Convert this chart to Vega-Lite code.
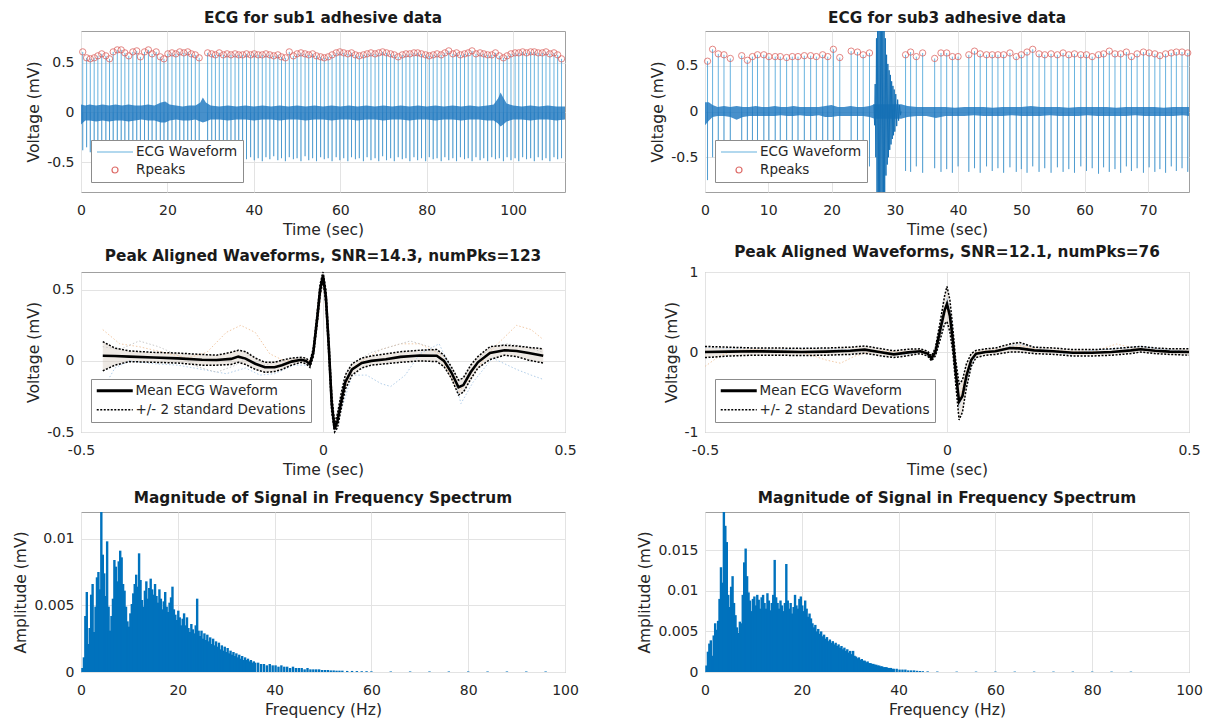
{
"$schema":"https://vega.github.io/schema/vega-lite/v6.json",
"padding":{"left":13,"top":10,"right":5,"bottom":5},
"background":"white",
"columns":2,
"spacing":{"row":80,"column":140},
"bounds":"flush",
"resolve":{"scale":{"color":"independent"},"legend":{"color":"independent"}},
"config":{
 "font":"DejaVu Sans",
 "view":{"stroke":"#a0a0a0","strokeWidth":1},
 "axis":{"labelFont":"DejaVu Sans","labelFontSize":14,"labelColor":"#262626","titleFont":"DejaVu Sans","titleFontSize":15.5,"titleFontWeight":"normal","titleColor":"#262626","grid":true,"gridColor":"#e3e3e3","domain":false,"ticks":false,"titlePadding":5,"labelExpr":"'' + datum.value","labelFlush":false,"labelOverlap":false},
 "axisX":{"labelPadding":11},
 "axisY":{"labelPadding":7},
 "title":{"font":"DejaVu Sans","fontSize":15.3,"fontWeight":"bold","color":"#1a1a1a","offset":5,"baseline":"alphabetic"},
 "legend":{"orient":"bottom-left","offset":10,"labelFont":"DejaVu Sans","labelFontSize":13.5,"labelColor":"#262626","labelLimit":400,"fillColor":"white","strokeColor":"#8c8c8c","padding":5,"rowPadding":4,"labelOffset":26,"cornerRadius":0,"symbolSize":144}
},
"datasets":{
"b1":[
{"t":0.4,"r":0.61,"s":-0.38},{"t":1.3,"r":0.55,"s":-0.35},{"t":2.15,"r":0.54,"s":-0.4},{"t":3.05,"r":0.55,"s":-0.33},{"t":3.9,"r":0.57,"s":-0.42},{"t":4.8,"r":0.59,"s":-0.36},{"t":5.75,"r":0.57,"s":-0.3},{"t":6.6,"r":0.54,"s":-0.41},{"t":7.45,"r":0.61,"s":-0.37},{"t":8.4,"r":0.63,"s":-0.44},{"t":9.3,"r":0.63,"s":-0.34},{"t":10.15,"r":0.6,"s":-0.4},{"t":11.05,"r":0.57,"s":-0.36},{"t":12.0,"r":0.61,"s":-0.43},{"t":12.9,"r":0.62,"s":-0.32},{"t":13.75,"r":0.56,"s":-0.41},{"t":14.7,"r":0.61,"s":-0.38},{"t":15.6,"r":0.63,"s":-0.45},{"t":16.45,"r":0.59,"s":-0.35},{"t":17.4,"r":0.61,"s":-0.42},{"t":18.35,"r":0.56,"s":-0.39},{"t":19.2,"r":0.54,"s":-0.3},{"t":20.1,"r":0.59,"s":-0.44},{"t":21.05,"r":0.6,"s":-0.37},{"t":21.95,"r":0.59,"s":-0.42},{"t":22.85,"r":0.61,"s":-0.36},{"t":23.8,"r":0.6,"s":-0.44},{"t":24.7,"r":0.61,"s":-0.38},{"t":25.55,"r":0.59,"s":-0.43},{"t":26.45,"r":0.58,"s":-0.4},{"t":27.35,"r":0.55,"s":-0.36},
{"t":29.3,"r":0.6,"s":-0.46},{"t":30.25,"r":0.59,"s":-0.44},{"t":31.1,"r":0.58,"s":-0.48},{"t":32.0,"r":0.6,"s":-0.45},{"t":32.95,"r":0.58,"s":-0.47},{"t":33.8,"r":0.59,"s":-0.43},{"t":34.7,"r":0.58,"s":-0.48},{"t":35.65,"r":0.59,"s":-0.46},{"t":36.5,"r":0.58,"s":-0.49},{"t":37.4,"r":0.58,"s":-0.44},{"t":38.3,"r":0.59,"s":-0.47},{"t":39.25,"r":0.58,"s":-0.45},{"t":40.1,"r":0.59,"s":-0.48},{"t":41.0,"r":0.58,"s":-0.46},{"t":41.95,"r":0.58,"s":-0.49},{"t":42.8,"r":0.59,"s":-0.45},{"t":43.7,"r":0.58,"s":-0.47},{"t":44.6,"r":0.57,"s":-0.44},{"t":45.55,"r":0.58,"s":-0.48},{"t":46.4,"r":0.56,"s":-0.46},{"t":47.3,"r":0.55,"s":-0.49},{"t":48.2,"r":0.61,"s":-0.45},{"t":49.15,"r":0.57,"s":-0.47},{"t":50.0,"r":0.59,"s":-0.46},{"t":50.9,"r":0.6,"s":-0.49},{"t":51.85,"r":0.59,"s":-0.44},{"t":52.7,"r":0.58,"s":-0.48},{"t":53.6,"r":0.59,"s":-0.46},{"t":54.5,"r":0.57,"s":-0.49},{"t":55.45,"r":0.56,"s":-0.45},{"t":56.3,"r":0.55,"s":-0.47},{"t":57.2,"r":0.56,"s":-0.46},{"t":58.1,"r":0.58,"s":-0.49},{"t":59.05,"r":0.6,"s":-0.45},{"t":59.9,"r":0.61,"s":-0.48},{"t":60.8,"r":0.6,"s":-0.46},{"t":61.75,"r":0.59,"s":-0.49},{"t":62.6,"r":0.6,"s":-0.45},{"t":63.5,"r":0.58,"s":-0.47},{"t":64.4,"r":0.57,"s":-0.46},{"t":65.35,"r":0.58,"s":-0.49},{"t":66.2,"r":0.59,"s":-0.45},{"t":67.1,"r":0.6,"s":-0.48},{"t":68.05,"r":0.59,"s":-0.46},{"t":68.9,"r":0.6,"s":-0.49},{"t":69.8,"r":0.61,"s":-0.44},{"t":70.7,"r":0.6,"s":-0.48},{"t":71.65,"r":0.59,"s":-0.46},{"t":72.5,"r":0.58,"s":-0.49},{"t":73.4,"r":0.56,"s":-0.45},{"t":74.35,"r":0.58,"s":-0.47},{"t":75.2,"r":0.59,"s":-0.46},{"t":76.1,"r":0.59,"s":-0.49},{"t":77.05,"r":0.6,"s":-0.45},{"t":77.9,"r":0.6,"s":-0.48},{"t":78.8,"r":0.59,"s":-0.46},{"t":79.75,"r":0.58,"s":-0.49},{"t":80.6,"r":0.57,"s":-0.45},{"t":81.5,"r":0.58,"s":-0.47},{"t":82.4,"r":0.59,"s":-0.46},{"t":83.35,"r":0.58,"s":-0.49},{"t":84.2,"r":0.6,"s":-0.45},{"t":85.1,"r":0.62,"s":-0.48},{"t":86.05,"r":0.59,"s":-0.46},{"t":86.9,"r":0.6,"s":-0.49},{"t":87.8,"r":0.58,"s":-0.45},{"t":88.75,"r":0.59,"s":-0.47},{"t":89.6,"r":0.6,"s":-0.46},{"t":90.5,"r":0.62,"s":-0.49},{"t":91.4,"r":0.59,"s":-0.45},{"t":92.35,"r":0.6,"s":-0.48},{"t":93.2,"r":0.59,"s":-0.46},{"t":94.1,"r":0.58,"s":-0.49},{"t":95.05,"r":0.58,"s":-0.45},{"t":95.9,"r":0.6,"s":-0.47},{"t":96.8,"r":0.57,"s":-0.46},{"t":97.75,"r":0.55,"s":-0.49},{"t":98.6,"r":0.57,"s":-0.45},{"t":99.5,"r":0.59,"s":-0.48},{"t":100.45,"r":0.6,"s":-0.46},{"t":101.3,"r":0.6,"s":-0.49},{"t":102.2,"r":0.61,"s":-0.45},{"t":103.1,"r":0.6,"s":-0.47},{"t":104.05,"r":0.61,"s":-0.46},{"t":104.9,"r":0.61,"s":-0.49},{"t":105.8,"r":0.6,"s":-0.45},{"t":106.75,"r":0.6,"s":-0.48},{"t":107.6,"r":0.61,"s":-0.46},{"t":108.5,"r":0.59,"s":-0.49},{"t":109.45,"r":0.6,"s":-0.45},{"t":110.3,"r":0.58,"s":-0.47},{"t":111.2,"r":0.54,"s":-0.46}
],
"n1":[
{"t":0,"lo":-0.12,"hi":0.08},{"t":1,"lo":-0.08,"hi":0.07},{"t":2,"lo":-0.08,"hi":0.08},{"t":3.5,"lo":-0.09,"hi":0.07},{"t":5,"lo":-0.08,"hi":0.08},{"t":6.5,"lo":-0.09,"hi":0.07},{"t":8,"lo":-0.08,"hi":0.08},{"t":9.5,"lo":-0.08,"hi":0.07},{"t":11,"lo":-0.09,"hi":0.08},{"t":12.5,"lo":-0.08,"hi":0.07},{"t":14,"lo":-0.07,"hi":0.07},{"t":15.5,"lo":-0.08,"hi":0.08},{"t":17,"lo":-0.08,"hi":0.07},{"t":18.5,"lo":-0.1,"hi":0.1},{"t":19.5,"lo":-0.1,"hi":0.11},{"t":20.5,"lo":-0.08,"hi":0.08},{"t":22,"lo":-0.07,"hi":0.07},{"t":23.5,"lo":-0.08,"hi":0.06},{"t":25,"lo":-0.08,"hi":0.07},{"t":26.5,"lo":-0.07,"hi":0.07},{"t":27.6,"lo":-0.09,"hi":0.1},{"t":28.2,"lo":-0.1,"hi":0.15},{"t":28.9,"lo":-0.09,"hi":0.1},{"t":30,"lo":-0.07,"hi":0.07},{"t":32,"lo":-0.07,"hi":0.06},{"t":34,"lo":-0.08,"hi":0.07},{"t":36,"lo":-0.07,"hi":0.06},{"t":38,"lo":-0.07,"hi":0.07},{"t":40,"lo":-0.08,"hi":0.06},{"t":42,"lo":-0.07,"hi":0.07},{"t":44,"lo":-0.07,"hi":0.06},{"t":46,"lo":-0.08,"hi":0.07},{"t":48,"lo":-0.07,"hi":0.06},{"t":50,"lo":-0.07,"hi":0.07},{"t":52,"lo":-0.08,"hi":0.06},{"t":54,"lo":-0.07,"hi":0.07},{"t":56,"lo":-0.07,"hi":0.06},{"t":58,"lo":-0.08,"hi":0.07},{"t":60,"lo":-0.07,"hi":0.06},{"t":62,"lo":-0.07,"hi":0.07},{"t":64,"lo":-0.08,"hi":0.06},{"t":66,"lo":-0.07,"hi":0.07},{"t":68,"lo":-0.07,"hi":0.06},{"t":70,"lo":-0.08,"hi":0.07},{"t":72,"lo":-0.07,"hi":0.06},{"t":74,"lo":-0.07,"hi":0.07},{"t":76,"lo":-0.08,"hi":0.06},{"t":78,"lo":-0.07,"hi":0.07},{"t":80,"lo":-0.07,"hi":0.06},{"t":82,"lo":-0.08,"hi":0.07},{"t":84,"lo":-0.07,"hi":0.06},{"t":86,"lo":-0.07,"hi":0.07},{"t":88,"lo":-0.08,"hi":0.06},{"t":90,"lo":-0.07,"hi":0.07},{"t":92,"lo":-0.07,"hi":0.06},{"t":94,"lo":-0.08,"hi":0.07},{"t":95.5,"lo":-0.08,"hi":0.08},{"t":96.5,"lo":-0.11,"hi":0.14},{"t":97.1,"lo":-0.14,"hi":0.2},{"t":97.7,"lo":-0.12,"hi":0.15},{"t":98.5,"lo":-0.09,"hi":0.09},{"t":100,"lo":-0.07,"hi":0.07},{"t":102,"lo":-0.07,"hi":0.06},{"t":104,"lo":-0.08,"hi":0.07},{"t":106,"lo":-0.07,"hi":0.06},{"t":108,"lo":-0.07,"hi":0.07},{"t":110,"lo":-0.08,"hi":0.06},{"t":112,"lo":-0.07,"hi":0.06}
],
"b2":[
{"t":0.4,"r":0.55,"s":-0.75},{"t":1.2,"r":0.68,"s":-0.5},{"t":2.1,"r":0.63,"s":-0.55},{"t":3.0,"r":0.62,"s":-0.45},{"t":4.0,"r":0.58,"s":-0.58},{"t":5.8,"r":0.61,"s":-0.6},{"t":6.7,"r":0.56,"s":-0.52},{"t":7.5,"r":0.6,"s":-0.62},{"t":8.3,"r":0.62,"s":-0.48},{"t":9.3,"r":0.62,"s":-0.58},{"t":10.1,"r":0.6,"s":-0.5},{"t":11.1,"r":0.6,"s":-0.6},{"t":11.9,"r":0.6,"s":-0.47},{"t":12.9,"r":0.59,"s":-0.57},{"t":13.8,"r":0.6,"s":-0.52},{"t":14.7,"r":0.6,"s":-0.62},{"t":15.7,"r":0.61,"s":-0.5},{"t":16.7,"r":0.61,"s":-0.58},{"t":17.6,"r":0.6,"s":-0.49},{"t":18.6,"r":0.62,"s":-0.6},{"t":19.4,"r":0.6,"s":-0.55},{"t":20.3,"r":0.68,"s":-0.62},{"t":21.3,"r":0.59,"s":-0.5},{"t":23.1,"r":0.66,"s":-0.58},{"t":24.1,"r":0.65,"s":-0.6},{"t":25.0,"r":0.62,"s":-0.55},{"t":26.0,"r":0.64,"s":-0.6},
{"t":31.7,"r":0.62,"s":-0.65},{"t":32.5,"r":0.65,"s":-0.66},{"t":33.4,"r":0.6,"s":-0.6},{"t":34.4,"r":0.64,"s":-0.67},{"t":36.3,"r":0.58,"s":-0.62},{"t":37.3,"r":0.64,"s":-0.66},{"t":38.2,"r":0.64,"s":-0.63},{"t":39.1,"r":0.6,"s":-0.67},{"t":40.0,"r":0.6,"s":-0.6},{"t":41.7,"r":0.62,"s":-0.66},{"t":42.6,"r":0.66,"s":-0.62},{"t":43.5,"r":0.63,"s":-0.67},{"t":44.5,"r":0.62,"s":-0.6},{"t":45.4,"r":0.62,"s":-0.65},{"t":46.3,"r":0.62,"s":-0.62},{"t":47.2,"r":0.62,"s":-0.67},{"t":48.2,"r":0.64,"s":-0.61},{"t":49.2,"r":0.6,"s":-0.66},{"t":50.0,"r":0.62,"s":-0.63},{"t":50.9,"r":0.65,"s":-0.67},{"t":51.8,"r":0.68,"s":-0.6},{"t":52.8,"r":0.63,"s":-0.66},{"t":53.7,"r":0.62,"s":-0.62},{"t":54.7,"r":0.63,"s":-0.67},{"t":55.7,"r":0.62,"s":-0.61},{"t":56.6,"r":0.64,"s":-0.66},{"t":57.5,"r":0.62,"s":-0.63},{"t":58.4,"r":0.63,"s":-0.67},{"t":59.4,"r":0.62,"s":-0.6},{"t":60.3,"r":0.62,"s":-0.65},{"t":61.2,"r":0.6,"s":-0.62},{"t":62.2,"r":0.62,"s":-0.68},{"t":63.0,"r":0.63,"s":-0.61},{"t":63.9,"r":0.66,"s":-0.66},{"t":64.8,"r":0.63,"s":-0.63},{"t":65.7,"r":0.63,"s":-0.67},{"t":66.6,"r":0.65,"s":-0.6},{"t":67.4,"r":0.6,"s":-0.65},{"t":68.3,"r":0.63,"s":-0.62},{"t":69.3,"r":0.65,"s":-0.67},{"t":70.2,"r":0.64,"s":-0.61},{"t":71.1,"r":0.63,"s":-0.66},{"t":71.9,"r":0.61,"s":-0.63},{"t":72.8,"r":0.63,"s":-0.67},{"t":73.7,"r":0.64,"s":-0.6},{"t":74.5,"r":0.65,"s":-0.65},{"t":75.4,"r":0.65,"s":-0.62},{"t":76.3,"r":0.64,"s":-0.66}
],
"n2":[
{"t":0,"lo":-0.15,"hi":0.1},{"t":0.6,"lo":-0.1,"hi":0.1},{"t":1.2,"lo":-0.06,"hi":0.07},{"t":2,"lo":-0.05,"hi":0.05},{"t":3,"lo":-0.05,"hi":0.06},{"t":4,"lo":-0.06,"hi":0.05},{"t":5,"lo":-0.09,"hi":0.06},{"t":6,"lo":-0.06,"hi":0.05},{"t":7,"lo":-0.05,"hi":0.05},{"t":8,"lo":-0.05,"hi":0.06},{"t":9,"lo":-0.05,"hi":0.05},{"t":10,"lo":-0.05,"hi":0.05},{"t":11,"lo":-0.05,"hi":0.06},{"t":12,"lo":-0.04,"hi":0.05},{"t":13,"lo":-0.05,"hi":0.05},{"t":14,"lo":-0.05,"hi":0.06},{"t":15,"lo":-0.04,"hi":0.05},{"t":16,"lo":-0.05,"hi":0.05},{"t":17,"lo":-0.05,"hi":0.05},{"t":18,"lo":-0.04,"hi":0.05},{"t":19,"lo":-0.06,"hi":0.06},{"t":20,"lo":-0.06,"hi":0.07},{"t":21,"lo":-0.05,"hi":0.05},{"t":22,"lo":-0.05,"hi":0.05},{"t":23,"lo":-0.05,"hi":0.06},{"t":24,"lo":-0.05,"hi":0.05},{"t":25,"lo":-0.05,"hi":0.05},{"t":26,"lo":-0.06,"hi":0.06},{"t":26.8,"lo":-0.08,"hi":0.08},{"t":31,"lo":-0.08,"hi":0.08},{"t":32,"lo":-0.06,"hi":0.06},{"t":33.5,"lo":-0.05,"hi":0.05},{"t":35,"lo":-0.05,"hi":0.05},{"t":36.5,"lo":-0.07,"hi":0.05},{"t":38,"lo":-0.05,"hi":0.05},{"t":39.5,"lo":-0.05,"hi":0.04},{"t":41,"lo":-0.05,"hi":0.05},{"t":42.5,"lo":-0.04,"hi":0.05},{"t":44,"lo":-0.05,"hi":0.05},{"t":45.5,"lo":-0.05,"hi":0.04},{"t":47,"lo":-0.05,"hi":0.05},{"t":48.5,"lo":-0.04,"hi":0.05},{"t":50,"lo":-0.05,"hi":0.05},{"t":51.5,"lo":-0.05,"hi":0.06},{"t":53,"lo":-0.05,"hi":0.05},{"t":54.5,"lo":-0.04,"hi":0.05},{"t":56,"lo":-0.05,"hi":0.05},{"t":57.5,"lo":-0.05,"hi":0.04},{"t":59,"lo":-0.05,"hi":0.05},{"t":60.5,"lo":-0.04,"hi":0.05},{"t":62,"lo":-0.05,"hi":0.05},{"t":63.5,"lo":-0.05,"hi":0.05},{"t":65,"lo":-0.05,"hi":0.04},{"t":66.5,"lo":-0.05,"hi":0.05},{"t":68,"lo":-0.04,"hi":0.05},{"t":69.5,"lo":-0.05,"hi":0.05},{"t":71,"lo":-0.05,"hi":0.05},{"t":72.5,"lo":-0.05,"hi":0.04},{"t":74,"lo":-0.05,"hi":0.05},{"t":75.5,"lo":-0.04,"hi":0.05},{"t":76.5,"lo":-0.05,"hi":0.05}
],
"burst2":[
{"t":26.7,"v":0.08},{"t":26.8,"v":-0.15},{"t":26.9,"v":0.3},{"t":27.0,"v":-0.5},{"t":27.1,"v":0.8},{"t":27.2,"v":-1.2},{"t":27.3,"v":1.2},{"t":27.4,"v":-1.2},{"t":27.5,"v":1.2},{"t":27.6,"v":-1.2},{"t":27.7,"v":1.2},{"t":27.8,"v":-1.2},{"t":27.9,"v":1.2},{"t":28.0,"v":-1.2},{"t":28.1,"v":1.2},{"t":28.2,"v":-1.1},{"t":28.3,"v":1.0},{"t":28.4,"v":-0.9},{"t":28.5,"v":0.8},{"t":28.6,"v":-0.7},{"t":28.7,"v":0.62},{"t":28.8,"v":-0.58},{"t":28.9,"v":0.52},{"t":29.0,"v":-0.5},{"t":29.1,"v":0.45},{"t":29.2,"v":-0.42},{"t":29.3,"v":0.4},{"t":29.4,"v":-0.36},{"t":29.5,"v":0.33},{"t":29.6,"v":-0.3},{"t":29.7,"v":0.28},{"t":29.8,"v":-0.26},{"t":29.9,"v":0.24},{"t":30.0,"v":-0.22},{"t":30.15,"v":0.19},{"t":30.3,"v":-0.16},{"t":30.45,"v":0.13},{"t":30.6,"v":-0.1},{"t":30.75,"v":0.07},{"t":30.9,"v":-0.04},{"t":31.0,"v":0.0}
],
"m3":[
{"t":-0.455,"m":0.036,"u":0.135,"l":-0.07},{"t":-0.43,"m":0.034,"u":0.09,"l":-0.03},{"t":-0.4,"m":0.03,"u":0.07,"l":-0.005},{"t":-0.35,"m":0.024,"u":0.06,"l":-0.01},{"t":-0.3,"m":0.018,"u":0.055,"l":-0.015},{"t":-0.25,"m":0.008,"u":0.045,"l":-0.03},{"t":-0.22,"m":0.006,"u":0.04,"l":-0.03},{"t":-0.19,"m":0.014,"u":0.06,"l":-0.025},{"t":-0.175,"m":0.03,"u":0.075,"l":-0.01},{"t":-0.16,"m":0.016,"u":0.065,"l":-0.025},{"t":-0.14,"m":-0.02,"u":0.02,"l":-0.06},{"t":-0.12,"m":-0.045,"u":-0.01,"l":-0.08},{"t":-0.1,"m":-0.045,"u":-0.01,"l":-0.075},{"t":-0.085,"m":-0.03,"u":0.005,"l":-0.06},{"t":-0.065,"m":-0.005,"u":0.02,"l":-0.03},{"t":-0.045,"m":0.008,"u":0.025,"l":-0.01},{"t":-0.035,"m":0.0,"u":0.02,"l":-0.02},{"t":-0.027,"m":-0.025,"u":-0.005,"l":-0.045},{"t":-0.02,"m":0.06,"u":0.09,"l":0.03},{"t":-0.012,"m":0.3,"u":0.34,"l":0.26},{"t":-0.006,"m":0.5,"u":0.54,"l":0.46},{"t":0,"m":0.6,"u":0.625,"l":0.57},{"t":0.006,"m":0.45,"u":0.5,"l":0.4},{"t":0.012,"m":0.1,"u":0.16,"l":0.04},{"t":0.018,"m":-0.3,"u":-0.24,"l":-0.36},{"t":0.024,"m":-0.48,"u":-0.44,"l":-0.5},{"t":0.03,"m":-0.42,"u":-0.37,"l":-0.47},{"t":0.038,"m":-0.28,"u":-0.22,"l":-0.33},{"t":0.046,"m":-0.15,"u":-0.1,"l":-0.2},{"t":0.06,"m":-0.06,"u":-0.02,"l":-0.1},{"t":0.08,"m":-0.015,"u":0.02,"l":-0.05},{"t":0.1,"m":0.0,"u":0.035,"l":-0.03},{"t":0.13,"m":0.012,"u":0.05,"l":-0.02},{"t":0.16,"m":0.028,"u":0.065,"l":-0.01},{"t":0.2,"m":0.038,"u":0.075,"l":0.0},{"t":0.235,"m":0.036,"u":0.08,"l":-0.005},{"t":0.25,"m":0.0,"u":0.04,"l":-0.04},{"t":0.265,"m":-0.08,"u":-0.04,"l":-0.12},{"t":0.28,"m":-0.185,"u":-0.135,"l":-0.24},{"t":0.29,"m":-0.17,"u":-0.12,"l":-0.22},{"t":0.305,"m":-0.08,"u":-0.03,"l":-0.13},{"t":0.32,"m":-0.01,"u":0.03,"l":-0.05},{"t":0.345,"m":0.055,"u":0.1,"l":0.01},{"t":0.375,"m":0.075,"u":0.11,"l":0.04},{"t":0.4,"m":0.07,"u":0.105,"l":0.03},{"t":0.425,"m":0.055,"u":0.095,"l":0.005},{"t":0.455,"m":0.036,"u":0.085,"l":-0.015}
],
"f3":[
{"id":"A","t":-0.455,"v":0.22},{"id":"A","t":-0.42,"v":0.12},{"id":"A","t":-0.38,"v":0.1},{"id":"A","t":-0.33,"v":0.06},{"id":"A","t":-0.28,"v":0.02},{"id":"A","t":-0.24,"v":0.06},{"id":"A","t":-0.2,"v":0.2},{"id":"A","t":-0.17,"v":0.25},{"id":"A","t":-0.14,"v":0.2},{"id":"A","t":-0.11,"v":0.05},{"id":"A","t":-0.08,"v":0.0},{"id":"A","t":-0.05,"v":0.01},{"id":"A","t":-0.03,"v":0.0},{"id":"A","t":-0.02,"v":0.05},{"id":"A","t":-0.01,"v":0.3},{"id":"A","t":0,"v":0.58},{"id":"A","t":0.012,"v":0.1},{"id":"A","t":0.024,"v":-0.45},{"id":"A","t":0.04,"v":-0.25},{"id":"A","t":0.06,"v":-0.05},{"id":"A","t":0.09,"v":0.02},{"id":"A","t":0.12,"v":0.08},{"id":"A","t":0.16,"v":0.12},{"id":"A","t":0.2,"v":0.12},{"id":"A","t":0.24,"v":0.05},{"id":"A","t":0.28,"v":-0.22},{"id":"A","t":0.31,"v":-0.1},{"id":"A","t":0.34,"v":0.05},{"id":"A","t":0.37,"v":0.15},{"id":"A","t":0.4,"v":0.25},{"id":"A","t":0.43,"v":0.22},{"id":"A","t":0.455,"v":0.15},
{"id":"B","t":-0.455,"v":-0.2},{"id":"B","t":-0.43,"v":-0.05},{"id":"B","t":-0.4,"v":0.0},{"id":"B","t":-0.35,"v":-0.02},{"id":"B","t":-0.3,"v":-0.03},{"id":"B","t":-0.25,"v":-0.06},{"id":"B","t":-0.2,"v":-0.09},{"id":"B","t":-0.16,"v":-0.05},{"id":"B","t":-0.13,"v":-0.1},{"id":"B","t":-0.1,"v":-0.09},{"id":"B","t":-0.06,"v":-0.03},{"id":"B","t":-0.03,"v":-0.03},{"id":"B","t":-0.02,"v":0.04},{"id":"B","t":-0.01,"v":0.32},{"id":"B","t":0,"v":0.6},{"id":"B","t":0.012,"v":0.12},{"id":"B","t":0.024,"v":-0.5},{"id":"B","t":0.04,"v":-0.32},{"id":"B","t":0.06,"v":-0.1},{"id":"B","t":0.09,"v":-0.1},{"id":"B","t":0.12,"v":-0.16},{"id":"B","t":0.14,"v":-0.18},{"id":"B","t":0.17,"v":-0.1},{"id":"B","t":0.2,"v":0.05},{"id":"B","t":0.24,"v":0.12},{"id":"B","t":0.27,"v":-0.1},{"id":"B","t":0.285,"v":-0.3},{"id":"B","t":0.31,"v":-0.15},{"id":"B","t":0.35,"v":0.02},{"id":"B","t":0.4,"v":-0.06},{"id":"B","t":0.43,"v":-0.1},{"id":"B","t":0.455,"v":-0.13},
{"id":"C","t":-0.455,"v":0.1},{"id":"C","t":-0.42,"v":0.08},{"id":"C","t":-0.38,"v":0.14},{"id":"C","t":-0.34,"v":0.1},{"id":"C","t":-0.3,"v":0.04},{"id":"C","t":-0.26,"v":-0.04},{"id":"C","t":-0.22,"v":-0.08},{"id":"C","t":-0.18,"v":-0.03},{"id":"C","t":-0.15,"v":0.05},{"id":"C","t":-0.12,"v":-0.03},{"id":"C","t":-0.09,"v":0.0},{"id":"C","t":-0.05,"v":0.02},{"id":"C","t":-0.03,"v":-0.02},{"id":"C","t":-0.02,"v":0.07},{"id":"C","t":-0.01,"v":0.36},{"id":"C","t":0,"v":0.61},{"id":"C","t":0.012,"v":0.08},{"id":"C","t":0.024,"v":-0.46},{"id":"C","t":0.04,"v":-0.2},{"id":"C","t":0.06,"v":-0.02},{"id":"C","t":0.1,"v":0.06},{"id":"C","t":0.14,"v":0.1},{"id":"C","t":0.18,"v":0.14},{"id":"C","t":0.22,"v":0.1},{"id":"C","t":0.25,"v":0.03},{"id":"C","t":0.28,"v":-0.15},{"id":"C","t":0.31,"v":-0.02},{"id":"C","t":0.35,"v":0.1},{"id":"C","t":0.38,"v":0.12},{"id":"C","t":0.42,"v":0.1},{"id":"C","t":0.455,"v":0.06}
],
"m4":[
{"t":-0.5,"m":0.0,"u":0.07,"l":-0.07},{"t":-0.45,"m":0.005,"u":0.06,"l":-0.05},{"t":-0.4,"m":0.01,"u":0.05,"l":-0.04},{"t":-0.35,"m":0.005,"u":0.05,"l":-0.04},{"t":-0.3,"m":0.0,"u":0.045,"l":-0.045},{"t":-0.25,"m":0.005,"u":0.05,"l":-0.04},{"t":-0.2,"m":0.015,"u":0.06,"l":-0.03},{"t":-0.17,"m":0.03,"u":0.075,"l":-0.015},{"t":-0.14,"m":0.0,"u":0.045,"l":-0.045},{"t":-0.11,"m":-0.03,"u":0.015,"l":-0.07},{"t":-0.08,"m":-0.005,"u":0.035,"l":-0.045},{"t":-0.055,"m":0.01,"u":0.04,"l":-0.02},{"t":-0.04,"m":-0.02,"u":0.01,"l":-0.05},{"t":-0.032,"m":-0.08,"u":-0.05,"l":-0.11},{"t":-0.024,"m":0.0,"u":0.05,"l":-0.05},{"t":-0.012,"m":0.33,"u":0.45,"l":0.2},{"t":-0.005,"m":0.52,"u":0.7,"l":0.35},{"t":0,"m":0.6,"u":0.82,"l":0.38},{"t":0.006,"m":0.45,"u":0.65,"l":0.25},{"t":0.012,"m":0.15,"u":0.3,"l":0.0},{"t":0.018,"m":-0.25,"u":-0.1,"l":-0.4},{"t":0.025,"m":-0.62,"u":-0.4,"l":-0.85},{"t":0.032,"m":-0.55,"u":-0.35,"l":-0.75},{"t":0.04,"m":-0.3,"u":-0.15,"l":-0.45},{"t":0.05,"m":-0.1,"u":-0.02,"l":-0.18},{"t":0.06,"m":-0.02,"u":0.02,"l":-0.07},{"t":0.08,"m":0.0,"u":0.04,"l":-0.04},{"t":0.1,"m":0.01,"u":0.05,"l":-0.03},{"t":0.13,"m":0.05,"u":0.1,"l":0.0},{"t":0.15,"m":0.045,"u":0.12,"l":0.0},{"t":0.18,"m":0.02,"u":0.06,"l":-0.02},{"t":0.22,"m":0.01,"u":0.05,"l":-0.03},{"t":0.26,"m":-0.01,"u":0.03,"l":-0.05},{"t":0.3,"m":-0.01,"u":0.03,"l":-0.05},{"t":0.34,"m":0.0,"u":0.04,"l":-0.04},{"t":0.38,"m":0.02,"u":0.06,"l":-0.02},{"t":0.4,"m":0.035,"u":0.07,"l":0.0},{"t":0.43,"m":0.015,"u":0.05,"l":-0.02},{"t":0.46,"m":0.005,"u":0.04,"l":-0.03},{"t":0.5,"m":0.0,"u":0.04,"l":-0.04}
],
"f4":[
{"id":"A","t":-0.5,"v":-0.18},{"id":"A","t":-0.47,"v":-0.05},{"id":"A","t":-0.44,"v":0.02},{"id":"A","t":-0.38,"v":0.03},{"id":"A","t":-0.3,"v":0.0},{"id":"A","t":-0.25,"v":-0.1},{"id":"A","t":-0.22,"v":-0.14},{"id":"A","t":-0.19,"v":-0.05},{"id":"A","t":-0.15,"v":0.02},{"id":"A","t":-0.1,"v":0.0},{"id":"A","t":-0.05,"v":0.01},{"id":"A","t":-0.03,"v":-0.05},{"id":"A","t":-0.02,"v":0.05},{"id":"A","t":-0.01,"v":0.35},{"id":"A","t":0,"v":0.55},{"id":"A","t":0.01,"v":0.3},{"id":"A","t":0.025,"v":-0.6},{"id":"A","t":0.04,"v":-0.25},{"id":"A","t":0.06,"v":0.0},{"id":"A","t":0.1,"v":0.03},{"id":"A","t":0.15,"v":0.08},{"id":"A","t":0.2,"v":0.02},{"id":"A","t":0.3,"v":0.0},{"id":"A","t":0.35,"v":0.1},{"id":"A","t":0.4,"v":0.03},{"id":"A","t":0.45,"v":0.0},{"id":"A","t":0.5,"v":0.02},
{"id":"B","t":-0.5,"v":0.06},{"id":"B","t":-0.45,"v":0.04},{"id":"B","t":-0.4,"v":0.05},{"id":"B","t":-0.35,"v":0.02},{"id":"B","t":-0.3,"v":0.05},{"id":"B","t":-0.25,"v":0.04},{"id":"B","t":-0.2,"v":0.03},{"id":"B","t":-0.15,"v":0.02},{"id":"B","t":-0.1,"v":-0.04},{"id":"B","t":-0.05,"v":0.0},{"id":"B","t":-0.03,"v":-0.1},{"id":"B","t":-0.02,"v":0.0},{"id":"B","t":-0.01,"v":0.28},{"id":"B","t":0,"v":0.68},{"id":"B","t":0.01,"v":0.4},{"id":"B","t":0.025,"v":-0.7},{"id":"B","t":0.04,"v":-0.35},{"id":"B","t":0.06,"v":-0.03},{"id":"B","t":0.1,"v":0.02},{"id":"B","t":0.15,"v":0.1},{"id":"B","t":0.2,"v":0.03},{"id":"B","t":0.25,"v":-0.03},{"id":"B","t":0.3,"v":0.02},{"id":"B","t":0.35,"v":0.04},{"id":"B","t":0.4,"v":0.07},{"id":"B","t":0.45,"v":0.03},{"id":"B","t":0.5,"v":0.01}
],
"s5":[
{"f":0.3,"a":0.0003},{"f":0.6,"a":0.0011},{"f":0.9,"a":0.0042},{"f":1.2,"a":0.006},{"f":1.5,"a":0.0021},{"f":1.8,"a":0.0033},{"f":2.1,"a":0.0058},{"f":2.4,"a":0.0066},{"f":2.7,"a":0.003},{"f":3.0,"a":0.0049},{"f":3.3,"a":0.0071},{"f":3.6,"a":0.0075},{"f":3.9,"a":0.0062},{"f":4.2,"a":0.012},{"f":4.5,"a":0.0088},{"f":4.8,"a":0.0074},{"f":5.1,"a":0.0057},{"f":5.4,"a":0.0098},{"f":5.7,"a":0.0049},{"f":6.0,"a":0.0031},{"f":6.3,"a":0.0042},{"f":6.6,"a":0.0055},{"f":6.9,"a":0.0084},{"f":7.2,"a":0.0079},{"f":7.5,"a":0.0068},{"f":7.8,"a":0.0083},{"f":8.1,"a":0.0091},{"f":8.4,"a":0.0086},{"f":8.7,"a":0.0066},{"f":9.0,"a":0.0061},{"f":9.3,"a":0.0049},{"f":9.6,"a":0.0038},{"f":9.9,"a":0.0034},{"f":10.2,"a":0.0044},{"f":10.5,"a":0.0051},{"f":10.8,"a":0.0059},{"f":11.1,"a":0.0066},{"f":11.4,"a":0.0073},{"f":11.7,"a":0.0064},{"f":12.0,"a":0.0089},{"f":12.3,"a":0.0069},{"f":12.6,"a":0.0054},{"f":12.9,"a":0.0049},{"f":13.2,"a":0.0061},{"f":13.5,"a":0.0068},{"f":13.8,"a":0.0055},{"f":14.1,"a":0.0063},{"f":14.4,"a":0.007},{"f":14.7,"a":0.0062},{"f":15.0,"a":0.0058},{"f":15.3,"a":0.0066},{"f":15.6,"a":0.0057},{"f":15.9,"a":0.0052},{"f":16.2,"a":0.0062},{"f":16.5,"a":0.0055},{"f":16.8,"a":0.0047},{"f":17.1,"a":0.0053},{"f":17.4,"a":0.006},{"f":17.7,"a":0.0049},{"f":18.0,"a":0.0045},{"f":18.3,"a":0.0052},{"f":18.6,"a":0.0056},{"f":18.9,"a":0.0064},{"f":19.2,"a":0.0047},{"f":19.5,"a":0.0043},{"f":19.8,"a":0.0039},{"f":20.1,"a":0.0046},{"f":20.4,"a":0.0041},{"f":20.7,"a":0.0035},{"f":21.0,"a":0.004},{"f":21.3,"a":0.0044},{"f":21.6,"a":0.0035},{"f":21.9,"a":0.0041},{"f":22.2,"a":0.0033},{"f":22.5,"a":0.003},{"f":22.8,"a":0.0036},{"f":23.1,"a":0.0032},{"f":23.4,"a":0.0029},{"f":23.7,"a":0.0035},{"f":24.0,"a":0.0055},{"f":24.3,"a":0.0031},{"f":24.6,"a":0.0027},{"f":24.9,"a":0.0031},{"f":25.2,"a":0.0025},{"f":25.5,"a":0.0029},{"f":25.8,"a":0.0024},{"f":26.1,"a":0.0028},{"f":26.4,"a":0.0023},{"f":26.7,"a":0.0026},{"f":27.0,"a":0.0021},{"f":27.3,"a":0.0025},{"f":27.6,"a":0.002},{"f":27.9,"a":0.0023},{"f":28.2,"a":0.0019},{"f":28.5,"a":0.0022},{"f":28.8,"a":0.0017},{"f":29.1,"a":0.002},{"f":29.4,"a":0.0016},{"f":29.7,"a":0.0019},{"f":30.0,"a":0.0015},{"f":30.3,"a":0.0018},{"f":30.6,"a":0.0014},{"f":30.9,"a":0.0016},{"f":31.2,"a":0.0013},{"f":31.5,"a":0.0015},{"f":31.8,"a":0.0012},{"f":32.1,"a":0.0014},{"f":32.4,"a":0.0011},{"f":32.7,"a":0.0013},{"f":33.0,"a":0.001},{"f":33.3,"a":0.0012},{"f":33.6,"a":0.0009},{"f":33.9,"a":0.0011},{"f":34.2,"a":0.0009},{"f":34.5,"a":0.001},{"f":34.8,"a":0.0008},{"f":35.1,"a":0.0009},{"f":35.4,"a":0.0007},{"f":35.7,"a":0.0008},{"f":36.0,"a":0.0007},{"f":36.6,"a":0.0007},{"f":37.2,"a":0.0006},{"f":37.8,"a":0.0006},{"f":38.4,"a":0.0005},{"f":39.0,"a":0.0006},{"f":39.6,"a":0.0005},{"f":40.2,"a":0.0005},{"f":40.8,"a":0.0004},{"f":41.4,"a":0.0005},{"f":42.0,"a":0.0004},{"f":42.6,"a":0.0004},{"f":43.2,"a":0.0003},{"f":43.8,"a":0.0004},{"f":44.4,"a":0.0003},{"f":45.0,"a":0.0003},{"f":45.6,"a":0.0003},{"f":46.2,"a":0.0002},{"f":46.8,"a":0.0003},{"f":47.4,"a":0.0002},{"f":48.0,"a":0.0002},{"f":48.6,"a":0.0002},{"f":49.2,"a":0.0002},{"f":49.8,"a":0.00015},{"f":50.4,"a":0.00015},{"f":51.0,"a":0.00015},{"f":51.6,"a":0.00012},{"f":52.2,"a":0.00012},{"f":52.8,"a":0.0001},{"f":53.4,"a":0.0001},{"f":54.0,"a":0.0001},{"f":55.0,"a":0.00008},{"f":56.0,"a":0.00008},{"f":57.0,"a":0.00007},{"f":58.0,"a":0.00006},{"f":59.0,"a":0.00006},{"f":60.0,"a":0.00005},{"f":64.0,"a":0.00004},{"f":68.0,"a":0.00004},{"f":72.0,"a":0.00004},{"f":76.0,"a":0.00004},{"f":80.0,"a":0.00004},{"f":84.0,"a":0.00004},{"f":88.0,"a":0.00004},{"f":92.0,"a":0.00004},{"f":96.0,"a":0.00004}
],
"s6":[
{"f":0.3,"a":0.0008},{"f":0.6,"a":0.0025},{"f":0.9,"a":0.0035},{"f":1.2,"a":0.0039},{"f":1.5,"a":0.002},{"f":1.8,"a":0.0045},{"f":2.1,"a":0.006},{"f":2.4,"a":0.0052},{"f":2.7,"a":0.0063},{"f":3.0,"a":0.009},{"f":3.3,"a":0.0129},{"f":3.6,"a":0.011},{"f":3.9,"a":0.0197},{"f":4.2,"a":0.018},{"f":4.5,"a":0.016},{"f":4.8,"a":0.0095},{"f":5.1,"a":0.008},{"f":5.4,"a":0.0105},{"f":5.7,"a":0.0118},{"f":6.0,"a":0.0085},{"f":6.3,"a":0.007},{"f":6.6,"a":0.0055},{"f":6.9,"a":0.0048},{"f":7.2,"a":0.0062},{"f":7.5,"a":0.006},{"f":7.8,"a":0.0095},{"f":8.1,"a":0.0135},{"f":8.4,"a":0.0152},{"f":8.7,"a":0.0118},{"f":9.0,"a":0.0098},{"f":9.3,"a":0.0088},{"f":9.6,"a":0.0075},{"f":9.9,"a":0.009},{"f":10.2,"a":0.0093},{"f":10.5,"a":0.0082},{"f":10.8,"a":0.0095},{"f":11.1,"a":0.0089},{"f":11.4,"a":0.0078},{"f":11.7,"a":0.0092},{"f":12.0,"a":0.0095},{"f":12.3,"a":0.0085},{"f":12.6,"a":0.0078},{"f":12.9,"a":0.0097},{"f":13.2,"a":0.0088},{"f":13.5,"a":0.0076},{"f":13.8,"a":0.0085},{"f":14.1,"a":0.0095},{"f":14.4,"a":0.0138},{"f":14.7,"a":0.0092},{"f":15.0,"a":0.0085},{"f":15.3,"a":0.0078},{"f":15.6,"a":0.0088},{"f":15.9,"a":0.0082},{"f":16.2,"a":0.0075},{"f":16.5,"a":0.0085},{"f":16.8,"a":0.0133},{"f":17.1,"a":0.0088},{"f":17.4,"a":0.0078},{"f":17.7,"a":0.0085},{"f":18.0,"a":0.0072},{"f":18.3,"a":0.008},{"f":18.6,"a":0.0095},{"f":18.9,"a":0.0082},{"f":19.2,"a":0.0078},{"f":19.5,"a":0.009},{"f":19.8,"a":0.0093},{"f":20.1,"a":0.0082},{"f":20.4,"a":0.0075},{"f":20.7,"a":0.0088},{"f":21.0,"a":0.0078},{"f":21.3,"a":0.0068},{"f":21.6,"a":0.0072},{"f":21.9,"a":0.0066},{"f":22.2,"a":0.006},{"f":22.5,"a":0.0055},{"f":22.8,"a":0.0058},{"f":23.1,"a":0.005},{"f":23.4,"a":0.0053},{"f":23.7,"a":0.0047},{"f":24.0,"a":0.005},{"f":24.3,"a":0.0044},{"f":24.6,"a":0.0046},{"f":24.9,"a":0.0041},{"f":25.2,"a":0.0043},{"f":25.5,"a":0.0038},{"f":25.8,"a":0.004},{"f":26.1,"a":0.0036},{"f":26.4,"a":0.0038},{"f":26.7,"a":0.0034},{"f":27.0,"a":0.0036},{"f":27.3,"a":0.0032},{"f":27.6,"a":0.0034},{"f":27.9,"a":0.003},{"f":28.2,"a":0.0032},{"f":28.5,"a":0.0028},{"f":28.8,"a":0.003},{"f":29.1,"a":0.0026},{"f":29.4,"a":0.0028},{"f":29.7,"a":0.0024},{"f":30.0,"a":0.0026},{"f":30.3,"a":0.0022},{"f":30.6,"a":0.0026},{"f":30.9,"a":0.002},{"f":31.2,"a":0.0019},{"f":31.5,"a":0.0017},{"f":31.8,"a":0.0018},{"f":32.1,"a":0.0015},{"f":32.4,"a":0.0016},{"f":32.7,"a":0.0014},{"f":33.0,"a":0.0014},{"f":33.3,"a":0.0012},{"f":33.6,"a":0.0013},{"f":33.9,"a":0.0011},{"f":34.2,"a":0.0011},{"f":34.5,"a":0.001},{"f":34.8,"a":0.001},{"f":35.1,"a":0.0009},{"f":35.4,"a":0.0009},{"f":35.7,"a":0.0008},{"f":36.0,"a":0.0008},{"f":36.3,"a":0.0007},{"f":36.6,"a":0.0007},{"f":36.9,"a":0.0006},{"f":37.2,"a":0.0006},{"f":37.5,"a":0.0006},{"f":37.8,"a":0.0005},{"f":38.1,"a":0.0005},{"f":38.4,"a":0.0005},{"f":38.7,"a":0.0004},{"f":39.0,"a":0.0004},{"f":39.6,"a":0.0004},{"f":40.2,"a":0.0003},{"f":40.8,"a":0.0003},{"f":41.4,"a":0.0003},{"f":42.0,"a":0.0002},{"f":42.6,"a":0.0002},{"f":43.2,"a":0.0002},{"f":43.8,"a":0.00015},{"f":44.4,"a":0.00012},{"f":45.0,"a":0.0001},{"f":46.0,"a":0.00008},{"f":48.0,"a":0.00006},{"f":52.0,"a":0.00005},{"f":56.0,"a":0.00005},{"f":60.0,"a":0.00005},{"f":64.0,"a":0.00005},{"f":68.0,"a":0.00005},{"f":72.0,"a":0.00005},{"f":76.0,"a":0.00005},{"f":80.0,"a":0.00005},{"f":84.0,"a":0.00005},{"f":88.0,"a":0.00005}
]
},
"concat":[
{"title":"ECG for sub1 adhesive data","width":484,"height":161,
 "layer":[
  {"data":{"name":"b1"},"mark":{"type":"rule","strokeWidth":1,"opacity":0.85},
   "encoding":{
    "x":{"field":"t","type":"quantitative","title":"Time (sec)","scale":{"domain":[0,112],"nice":false,"zero":false},"axis":{"values":[0,20,40,60,80,100]}},
    "y":{"field":"s","type":"quantitative","title":"Voltage (mV)","scale":{"domain":[-0.8,0.82],"nice":false,"zero":false},"axis":{"values":[-0.5,0,0.5]}},
    "y2":{"field":"r"},
    "color":{"datum":"ECG Waveform","scale":{"domain":["ECG Waveform","Rpeaks"],"range":["#4da6d9","#d9534f"]},
     "legend":{"title":null,"symbolType":{"expr":"datum.value === 'Rpeaks' ? 'M1.5,0A0.5,0.5 0 1,1 2.5,0A0.5,0.5 0 1,1 1.5,0' : 'M-1,0H5'"},"symbolStrokeWidth":1.2,"symbolFillColor":"transparent"}}}},
  {"data":{"name":"b1"},"mark":{"type":"rule","strokeWidth":0.8,"color":"#1f6fb0","opacity":0.45},
   "encoding":{"x":{"field":"t","type":"quantitative","title":"Time (sec)"},"y":{"field":"s","type":"quantitative","title":"Voltage (mV)"},"y2":{"datum":0}}},
  {"data":{"name":"n1"},"mark":{"type":"area","color":"#1f78bf","opacity":0.82},
   "encoding":{"x":{"field":"t","type":"quantitative","title":"Time (sec)"},"y":{"field":"lo","type":"quantitative","title":"Voltage (mV)"},"y2":{"field":"hi"}}},
  {"data":{"name":"b1"},"mark":{"type":"point","filled":false,"size":40,"strokeWidth":1},
   "encoding":{"x":{"field":"t","type":"quantitative","title":"Time (sec)"},"y":{"field":"r","type":"quantitative","title":"Voltage (mV)"},"color":{"datum":"Rpeaks"}}}
 ]},
{"title":"ECG for sub3 adhesive data","width":484,"height":161,
 "layer":[
  {"data":{"name":"b2"},"mark":{"type":"rule","strokeWidth":1,"opacity":0.85},
   "encoding":{
    "x":{"field":"t","type":"quantitative","title":"Time (sec)","scale":{"domain":[0,76.5],"nice":false,"zero":false},"axis":{"values":[0,10,20,30,40,50,60,70]}},
    "y":{"field":"s","type":"quantitative","title":"Voltage (mV)","scale":{"domain":[-0.88,0.88],"nice":false,"zero":false},"axis":{"values":[-0.5,0,0.5]}},
    "y2":{"field":"r"},
    "color":{"datum":"ECG Waveform","scale":{"domain":["ECG Waveform","Rpeaks"],"range":["#4da6d9","#d9534f"]},
     "legend":{"title":null,"symbolType":{"expr":"datum.value === 'Rpeaks' ? 'M1.5,0A0.5,0.5 0 1,1 2.5,0A0.5,0.5 0 1,1 1.5,0' : 'M-1,0H5'"},"symbolStrokeWidth":1.2,"symbolFillColor":"transparent"}}}},
  {"data":{"name":"b2"},"mark":{"type":"rule","strokeWidth":0.8,"color":"#1f6fb0","opacity":0.4},
   "encoding":{"x":{"field":"t","type":"quantitative","title":"Time (sec)"},"y":{"field":"s","type":"quantitative","title":"Voltage (mV)"},"y2":{"datum":0}}},
  {"data":{"name":"n2"},"mark":{"type":"area","color":"#1f78bf","opacity":0.82},
   "encoding":{"x":{"field":"t","type":"quantitative","title":"Time (sec)"},"y":{"field":"lo","type":"quantitative","title":"Voltage (mV)"},"y2":{"field":"hi"}}},
  {"data":{"name":"burst2"},"mark":{"type":"line","color":"#1570b5","strokeWidth":1,"clip":true},
   "encoding":{"x":{"field":"t","type":"quantitative","title":"Time (sec)"},"y":{"field":"v","type":"quantitative","title":"Voltage (mV)"}}},
  {"data":{"name":"b2"},"mark":{"type":"point","filled":false,"size":40,"strokeWidth":1},
   "encoding":{"x":{"field":"t","type":"quantitative","title":"Time (sec)"},"y":{"field":"r","type":"quantitative","title":"Voltage (mV)"},"color":{"datum":"Rpeaks"}}}
 ]},
{"title":"Peak Aligned Waveforms, SNR=14.3, numPks=123","width":484,"height":160,
 "layer":[
  {"data":{"name":"m3"},"mark":{"type":"area","color":"#cdbfb2","opacity":0.35},
   "encoding":{
    "x":{"field":"t","type":"quantitative","title":"Time (sec)","scale":{"domain":[-0.5,0.5],"nice":false,"zero":false},"axis":{"values":[-0.5,0,0.5]}},
    "y":{"field":"l","type":"quantitative","title":"Voltage (mV)","scale":{"domain":[-0.5,0.625],"nice":false,"zero":false},"axis":{"values":[-0.5,0,0.5]}},
    "y2":{"field":"u"}}},
  {"data":{"name":"f3"},"mark":{"type":"line","strokeWidth":1,"strokeDash":[1.5,2],"opacity":0.9},
   "encoding":{"x":{"field":"t","type":"quantitative","title":"Time (sec)"},"y":{"field":"v","type":"quantitative","title":"Voltage (mV)"},
    "stroke":{"field":"id","type":"nominal","scale":{"domain":["A","B","C"],"range":["#efc39c","#a9c8e6","#c4c4c4"]},"legend":null}}},
  {"data":{"name":"m3"},"mark":{"type":"line","strokeWidth":1.5,"strokeDash":[2,1.5]},
   "encoding":{"x":{"field":"t","type":"quantitative","title":"Time (sec)"},"y":{"field":"u","type":"quantitative","title":"Voltage (mV)"},
    "color":{"datum":"+/- 2 standard Devations","scale":{"domain":["Mean ECG Waveform","+/- 2 standard Devations"],"range":["#000000","#000000"]},
     "legend":{"title":null,"symbolType":"M-1,0H5","symbolStrokeWidth":{"expr":"datum.value === 'Mean ECG Waveform' ? 3 : 1.5"},"symbolDash":{"expr":"datum.value === 'Mean ECG Waveform' ? [1,0] : [2,1.5]"}}}}},
  {"data":{"name":"m3"},"mark":{"type":"line","strokeWidth":1.5,"strokeDash":[2,1.5]},
   "encoding":{"x":{"field":"t","type":"quantitative","title":"Time (sec)"},"y":{"field":"l","type":"quantitative","title":"Voltage (mV)"},"color":{"datum":"+/- 2 standard Devations"}}},
  {"data":{"name":"m3"},"mark":{"type":"line","strokeWidth":2.6},
   "encoding":{"x":{"field":"t","type":"quantitative","title":"Time (sec)"},"y":{"field":"m","type":"quantitative","title":"Voltage (mV)"},"color":{"datum":"Mean ECG Waveform"}}}
 ]},
{"title":"Peak Aligned Waveforms, SNR=12.1, numPks=76","width":484,"height":160,
 "layer":[
  {"data":{"name":"m4"},"mark":{"type":"area","color":"#cdbfb2","opacity":0.35},
   "encoding":{
    "x":{"field":"t","type":"quantitative","title":"Time (sec)","scale":{"domain":[-0.5,0.5],"nice":false,"zero":false},"axis":{"values":[-0.5,0,0.5]}},
    "y":{"field":"l","type":"quantitative","title":"Voltage (mV)","scale":{"domain":[-1,1],"nice":false,"zero":false},"axis":{"values":[-1,-0.5,0,0.5,1]}},
    "y2":{"field":"u"}}},
  {"data":{"name":"f4"},"mark":{"type":"line","strokeWidth":1,"strokeDash":[1.5,2],"opacity":0.9},
   "encoding":{"x":{"field":"t","type":"quantitative","title":"Time (sec)"},"y":{"field":"v","type":"quantitative","title":"Voltage (mV)"},
    "stroke":{"field":"id","type":"nominal","scale":{"domain":["A","B","C"],"range":["#efc39c","#a9c8e6","#c4c4c4"]},"legend":null}}},
  {"data":{"name":"m4"},"mark":{"type":"line","strokeWidth":1.5,"strokeDash":[2,1.5]},
   "encoding":{"x":{"field":"t","type":"quantitative","title":"Time (sec)"},"y":{"field":"u","type":"quantitative","title":"Voltage (mV)"},
    "color":{"datum":"+/- 2 standard Devations","scale":{"domain":["Mean ECG Waveform","+/- 2 standard Devations"],"range":["#000000","#000000"]},
     "legend":{"title":null,"symbolType":"M-1,0H5","symbolStrokeWidth":{"expr":"datum.value === 'Mean ECG Waveform' ? 3 : 1.5"},"symbolDash":{"expr":"datum.value === 'Mean ECG Waveform' ? [1,0] : [2,1.5]"}}}}},
  {"data":{"name":"m4"},"mark":{"type":"line","strokeWidth":1.5,"strokeDash":[2,1.5]},
   "encoding":{"x":{"field":"t","type":"quantitative","title":"Time (sec)"},"y":{"field":"l","type":"quantitative","title":"Voltage (mV)"},"color":{"datum":"+/- 2 standard Devations"}}},
  {"data":{"name":"m4"},"mark":{"type":"line","strokeWidth":2.6},
   "encoding":{"x":{"field":"t","type":"quantitative","title":"Time (sec)"},"y":{"field":"m","type":"quantitative","title":"Voltage (mV)"},"color":{"datum":"Mean ECG Waveform"}}}
 ]},
{"title":"Magnitude of Signal in Frequency Spectrum","width":484,"height":160,
 "data":{"name":"s5"},"mark":{"type":"rule","color":"#0072BD","strokeWidth":2.4},
 "encoding":{
  "x":{"field":"f","type":"quantitative","title":"Frequency (Hz)","scale":{"domain":[0,100],"nice":false,"zero":false},"axis":{"values":[0,20,40,60,80,100]}},
  "y":{"field":"a","type":"quantitative","title":"Amplitude (mV)","scale":{"domain":[0,0.012],"nice":false,"zero":false},"axis":{"values":[0,0.005,0.01]}},
  "y2":{"datum":0}}},
{"title":"Magnitude of Signal in Frequency Spectrum","width":484,"height":160,
 "data":{"name":"s6"},"mark":{"type":"rule","color":"#0072BD","strokeWidth":2.4},
 "encoding":{
  "x":{"field":"f","type":"quantitative","title":"Frequency (Hz)","scale":{"domain":[0,100],"nice":false,"zero":false},"axis":{"values":[0,20,40,60,80,100]}},
  "y":{"field":"a","type":"quantitative","title":"Amplitude (mV)","scale":{"domain":[0,0.0197],"nice":false,"zero":false},"axis":{"values":[0,0.005,0.01,0.015]}},
  "y2":{"datum":0}}}
]
}
